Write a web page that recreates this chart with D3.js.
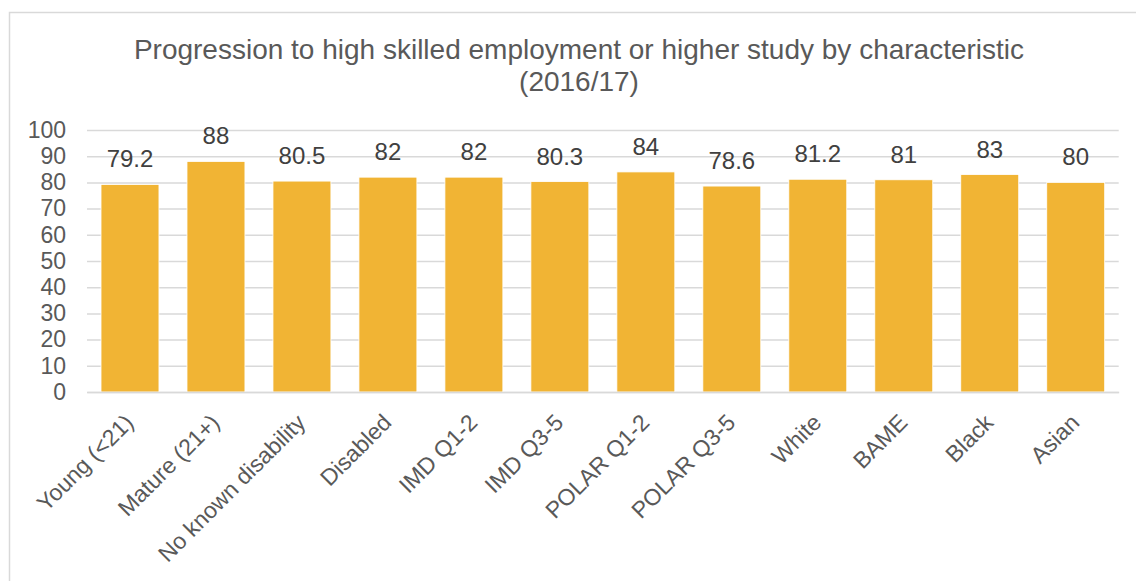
<!DOCTYPE html>
<html>
<head>
<meta charset="utf-8">
<script src="https://cdn.jsdelivr.net/npm/d3@7"></script>
<style>
  html, body { margin: 0; padding: 0; background: #fff; }
  svg { display: block; font-family: "Liberation Sans", Arial, sans-serif; }
</style>
</head>
<body>
<div id="chart"></div>
<script>
// chart data
const categories = ["Young (<21)", "Mature (21+)", "No known disability", "Disabled",
  "IMD Q1-2", "IMD Q3-5", "POLAR Q1-2", "POLAR Q3-5", "White", "BAME", "Black", "Asian"];
const values = [79.2, 88, 80.5, 82, 82, 80.3, 84, 78.6, 81.2, 81, 83, 80];
const labels = ["79.2", "88", "80.5", "82", "82", "80.3", "84", "78.6", "81.2", "81", "83", "80"];
const yTicks = [0, 10, 20, 30, 40, 50, 60, 70, 80, 90, 100];
const titleLines = ["Progression to high skilled employment or higher study by characteristic", "(2016/17)"];

const W = 1136, H = 581;
const plot = { left: 87, right: 1118.7, top: 130, bottom: 392 };
const textColor = "#595959";
const gridColor = "#d9d9d9";
const barColor = "#f1b434";

const svg = d3.select("#chart").append("svg")
  .attr("width", W)
  .attr("height", H);

// chart border (runs off the right and bottom edges)
svg.append("rect")
  .attr("x", 9.5).attr("y", 12.5)
  .attr("width", 1300).attr("height", 800)
  .attr("fill", "none")
  .attr("stroke", gridColor)
  .attr("stroke-width", 1.5);

// title
svg.append("text")
  .attr("x", 579).attr("y", 59)
  .attr("text-anchor", "middle")
  .attr("fill", textColor)
  .attr("font-size", "28px")
  .selectAll("tspan")
  .data(titleLines)
  .join("tspan")
    .attr("x", 579)
    .attr("dy", (d, i) => i === 0 ? 0 : 32)
    .text(d => d);

const x = d3.scaleBand()
  .domain(categories)
  .range([plot.left, plot.right])
  .paddingInner(0.326)
  .paddingOuter(0.163);

const y = d3.scaleLinear()
  .domain([0, 100])
  .range([plot.bottom, plot.top]);

// gridlines + y labels
const yAxis = svg.append("g")
  .attr("transform", `translate(${plot.left},0)`)
  .call(d3.axisLeft(y).tickValues(yTicks).tickSize(-(plot.right - plot.left)).tickPadding(21));
yAxis.select(".domain").remove();
yAxis.selectAll(".tick line").attr("stroke", gridColor).attr("stroke-width", 1.5);
yAxis.selectAll(".tick text")
  .attr("fill", textColor)
  .attr("font-size", "23px")
  .attr("font-family", "Liberation Sans, Arial, sans-serif");

// bars
svg.append("g")
  .selectAll("rect")
  .data(values)
  .join("rect")
    .attr("x", (d, i) => x(categories[i]))
    .attr("y", d => y(d))
    .attr("width", x.bandwidth())
    .attr("height", d => y(0) - y(d))
    .attr("fill", barColor)
    .attr("stroke", "#fff")
    .attr("stroke-width", 0.8);

// value labels
svg.append("g")
  .selectAll("text")
  .data(values)
  .join("text")
    .attr("x", (d, i) => x(categories[i]) + x.bandwidth() / 2)
    .attr("y", d => y(d) - 17)
    .attr("text-anchor", "middle")
    .attr("fill", "#404040")
    .attr("font-size", "24px")
    .text((d, i) => labels[i]);

// x axis line + rotated category labels
const xAxis = svg.append("g")
  .attr("transform", `translate(0,${plot.bottom})`)
  .call(d3.axisBottom(x).tickSize(0).tickSizeOuter(0));
xAxis.select(".domain").attr("stroke", gridColor).attr("stroke-width", 1.5);
xAxis.selectAll(".tick text")
  .attr("fill", textColor)
  .attr("font-size", "23px")
  .attr("font-family", "Liberation Sans, Arial, sans-serif")
  .attr("text-anchor", "end")
  .attr("y", 0).attr("dy", 0)
  .attr("transform", "translate(5,32) rotate(-45)");
</script>
</body>
</html>
